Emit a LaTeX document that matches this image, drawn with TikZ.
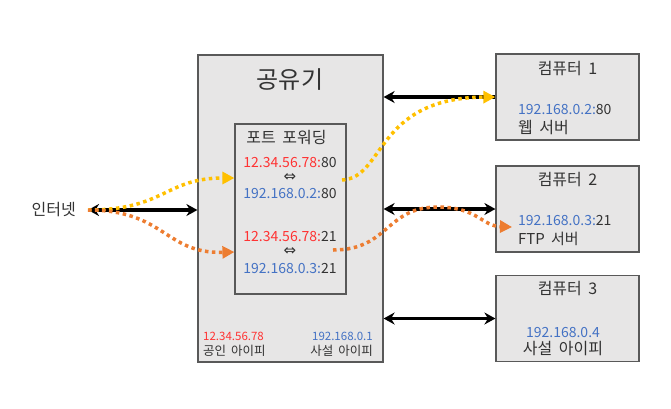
\documentclass[tikz,border=0pt]{standalone}
\usepackage{fontspec}
\setmainfont[WordSpace=1.8]{Noto Sans CJK KR}
\newfontfamily\symfont{DejaVu Sans}
\usetikzlibrary{arrows.meta}

\definecolor{boxgray}{HTML}{E7E6E6}
\definecolor{edgegray}{HTML}{595959}
\definecolor{txtgray}{HTML}{333333}
\definecolor{pubred}{HTML}{FF3333}
\definecolor{privblue}{HTML}{4472C4}
\definecolor{webgold}{HTML}{FFC000}
\definecolor{ftporange}{HTML}{ED7D31}

\newcommand{\pubip}[1]{\textcolor{pubred}{#1}}
\newcommand{\privip}[1]{\textcolor{privblue}{#1}}
\newcommand{\swap}{{\symfont\fontsize{15}{15}\selectfont ⇔}}

\begin{document}
\begin{tikzpicture}[x=1pt, y=-1pt,
    box/.style={draw=edgegray, line width=1.2pt, fill=boxgray, inner sep=0pt},
    txt/.style={inner sep=0pt, text=txtgray, font=\fontsize{14}{16}\selectfont},
    krtxt/.style={inner sep=0pt, text=txtgray, font=\fontsize{16}{18}\selectfont},
    small/.style={inner sep=0pt, text=txtgray, font=\fontsize{11.5}{13}\selectfont},
    smallkr/.style={inner sep=0pt, text=txtgray, font=\fontsize{12.5}{14}\selectfont},
    link/.style={line width=3.2pt, {Stealth[length=11pt,width=12pt]}-{Stealth[length=11pt,width=12pt]}},
    webflow/.style={webgold, line width=3.5pt, dash pattern=on 3.5pt off 3.5pt, -{Triangle[length=12pt,width=12pt]}},
    ftpflow/.style={ftporange, line width=3.5pt, dash pattern=on 3.5pt off 3.5pt, -{Triangle[length=12pt,width=12pt]}}]
    \useasboundingbox (0,0) rectangle (671,408);

    % Router with the port forwarding table
    \node[box, minimum width=185pt, minimum height=307pt] (router) at (290.5,208.5) {};
    \node[krtxt, font=\fontsize{24}{26}\selectfont] (routertitle) at (290,80) {공유기};
    \node[box, minimum width=111pt, minimum height=170pt] (table) at (290.5,209) {};
    \node[krtxt] (tabletitle) at (286.5,138) {포트 포워딩};
    \node[txt] (pub80) at (290,163) {\pubip{12.34.56.78:}80};
    \node[txt] (swap80) at (290,178) {\swap};
    \node[txt] (priv80) at (290,194) {\privip{192.168.0.2:}80};
    \node[txt] (pub21) at (290,237) {\pubip{12.34.56.78:}21};
    \node[txt] (swap21) at (290,252) {\swap};
    \node[txt] (priv21) at (290,269) {\privip{192.168.0.3:}21};

    % Public / private address of the router
    \node[small, anchor=west] (pubaddr) at (203,336) {\pubip{12.34.56.78}};
    \node[smallkr, anchor=west] (publabel) at (203,351) {공인 아이피};
    \node[small, anchor=east] (privaddr) at (373,336) {\privip{192.168.0.1}};
    \node[smallkr, anchor=east] (privlabel) at (373,351) {사설 아이피};

    % Computers
    \node[box, minimum width=143pt, minimum height=86pt] (pc1) at (567.5,97) {};
    \node[box, minimum width=143pt, minimum height=86pt] (pc2) at (567.5,209) {};
    \node[box, minimum width=143pt, minimum height=86pt] (pc3) at (567.5,318.5) {};
    \node[krtxt] (pc1title) at (567.5,69) {컴퓨터 1};
    \node[txt, anchor=west] (pc1ip) at (518,110) {\privip{192.168.0.2:}80};
    \node[krtxt, anchor=west] (pc1role) at (518,128) {웹 서버};
    \node[krtxt] (pc2title) at (567.5,180) {컴퓨터 2};
    \node[txt, anchor=west] (pc2ip) at (518,221) {\privip{192.168.0.3:}21};
    \node[krtxt, anchor=west, font=\fontsize{15}{17}\selectfont] (pc2role) at (518,239) {FTP 서버};
    \node[krtxt] (pc3title) at (567.5,289) {컴퓨터 3};
    \node[txt] (pc3ip) at (563,332) {\privip{192.168.0.4}};
    \node[krtxt] (pc3role) at (563,349) {사설 아이피};

    % Internet
    \node[krtxt, anchor=east] (inet) at (76,210) {인터넷};
    \coordinate (inetend) at (88,210);

    % Links
    \draw[link] (inetend) -- (router.west |- inetend);
    \draw[line width=3.2pt, {Stealth[length=11pt,width=12pt]}-] (router.east |- pc1) -- (pc1.west);
    \draw[link] (router.east |- pc2) -- (pc2.west);
    \draw[link] (router.east |- pc3) -- (pc3.west);

    % Forwarded traffic
    \coordinate (webout) at (342,180);
    \coordinate (ftpout) at (333,250);
    \coordinate (ftpin) at (512,227);
    \draw[webflow] (inetend) .. controls (165,210) and (165,178) .. (table.west |- swap80);
    \draw[ftpflow] (inetend) .. controls (165,210) and (165,254) .. (table.west |- swap21);
    \draw[webflow] (webout) .. controls (385,178) and (375,98) .. (pc1.west);
    \draw[ftpflow] (ftpout) .. controls (390,250) and (385,206) .. (440,207)
        .. controls (478,208) and (482,226) .. (ftpin);
\end{tikzpicture}
\end{document}
